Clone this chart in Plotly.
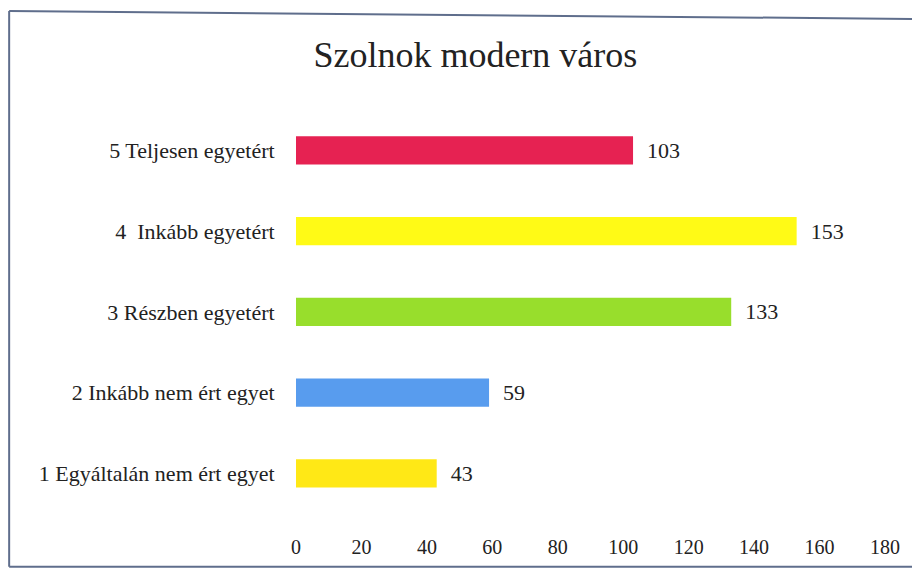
import plotly.graph_objects as go

# Survey answers, bottom to top as drawn
categories = ['1 Egyáltalán nem ért egyet', '2 Inkább nem ért egyet', '3 Részben egyetért',
              '4  Inkább egyetért', '5 Teljesen egyetért']
values = [43, 59, 133, 153, 103]
bar_colours = ['rgb(255, 232, 22)', 'rgb(88, 156, 238)', 'rgb(152, 222, 44)',
               'rgb(255, 250, 22)', 'rgb(230, 34, 82)']
tick_values = [0, 20, 40, 60, 80, 100, 120, 140, 160, 180]

FONT = 'Liberation Serif, Times New Roman, serif'
FRAME = dict(color='rgb(95, 110, 140)', width=2)

bars = go.Bar(x=values,
              y=categories,
              orientation='h',
              width=0.35,
              marker=dict(color=bar_colours, line=dict(width=0)),
              text=values,
              texttemplate='  %{text}',
              textposition='outside',
              textfont=dict(family=FONT, size=22, color='#222222'),
              cliponaxis=False,
              hoverinfo='x+y')

fig = go.Figure(data=[bars])
# the page puts the figure 8px in from the corner, margins allow for that
fig.update_layout(
    width=920, height=570,
    margin=dict(l=288, r=43, t=102, b=45),
    paper_bgcolor='white', plot_bgcolor='white',
    showlegend=False,
    font=dict(family=FONT, color='#222222'),
    title=dict(text='Szolnok modern város', x=0.508, xanchor='center',
               y=0.918, yanchor='middle',
               font=dict(family=FONT, size=36, color='#222222')),
)
fig.update_xaxes(range=[0, 180], tickvals=tick_values, showgrid=False, zeroline=False,
                 showline=False, ticks='', tickfont=dict(size=20))
fig.update_yaxes(range=[-0.74, 4.5], showgrid=False, zeroline=False, showline=False,
                 ticks='outside', ticklen=16, tickcolor='rgba(0,0,0,0)',
                 tickfont=dict(size=22))

# frame of the scanned chart: left, top (a little skewed) and bottom edges
fig.add_shape(type='line', xref='paper', yref='paper',
              x0=-0.487, x1=-0.487, y0=-0.080, y1=1.234, line=FRAME)
fig.add_shape(type='line', xref='paper', yref='paper',
              x0=-0.487, x1=1.07, y0=1.234, y1=1.215, line=FRAME)
fig.add_shape(type='line', xref='paper', yref='paper',
              x0=-0.487, x1=1.07, y0=-0.080, y1=-0.080, line=FRAME)

fig.write_html("out.html")
